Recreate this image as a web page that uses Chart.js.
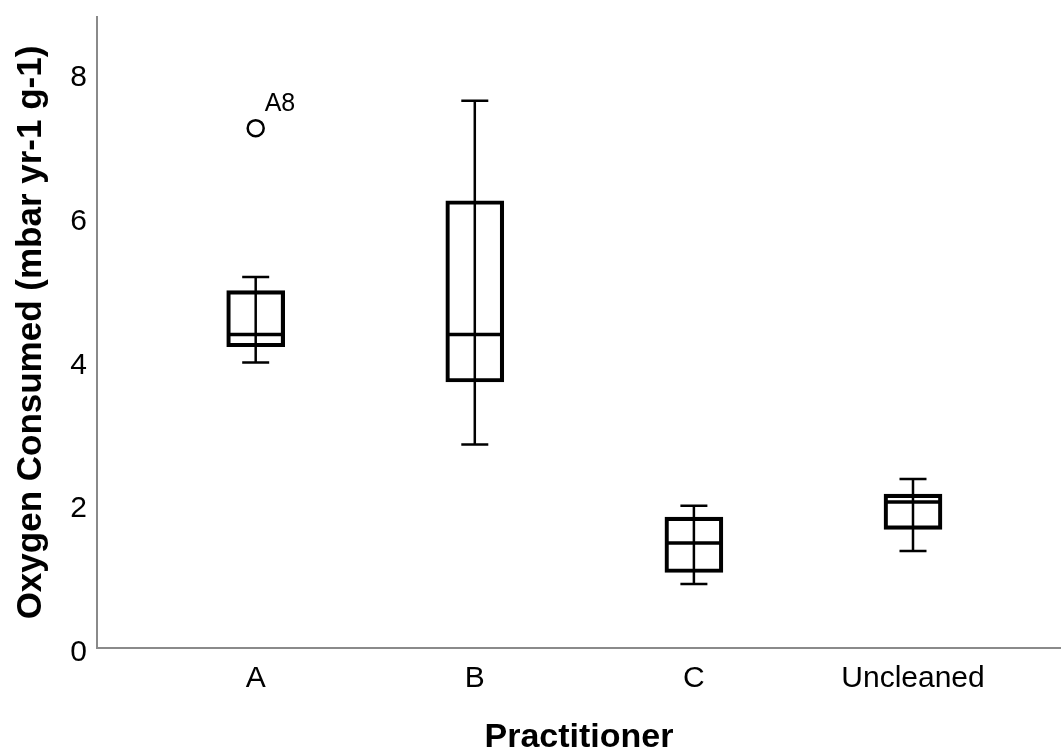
<!DOCTYPE html>
<html>
<head>
<meta charset="utf-8">
<script src="https://cdn.jsdelivr.net/npm/chart.js@4"></script>
<style>
  html, body { margin: 0; padding: 0; background: #fff; overflow: hidden; }
  #wrap { width: 1061px; height: 751px; }
</style>
</head>
<body>
<div id="wrap"><canvas id="boxChart"></canvas></div>
<script>
// Boxplot values
const categories = ['A', 'B', 'C', 'Uncleaned'];
const whiskerLow = [3.97, 2.83, 0.89, 1.35];
const q1 = [4.19, 3.70, 1.05, 1.65];
const median = [4.36, 4.36, 1.46, 2.03];
const q3 = [4.97, 6.22, 1.82, 2.14];
const whiskerHigh = [5.16, 7.61, 1.98, 2.35];

// Outliers (category index, value, case label)
const outlierCat = [0];
const outlierValues = [7.23];
const outlierLabels = ['A8'];

const yTicks = [0, 2, 4, 6, 8];

const boxData = categories.map((c, i) => ({ x: i + 1, y: [q1[i], q3[i]] }));
const outlierData = outlierCat.map((c, i) => ({ x: c + 1, y: outlierValues[i] }));

// whiskers, caps and median lines on top of the bars
const boxLines = {
    id: 'boxLines',
    afterDatasetsDraw(chart) {
        const { ctx, scales: { x, y } } = chart;
        ctx.save();
        ctx.strokeStyle = '#000';
        ctx.lineCap = 'butt';
        categories.forEach((c, i) => {
            const px = x.getPixelForValue(i + 1);
            const yl = y.getPixelForValue(whiskerLow[i]);
            const yh = y.getPixelForValue(whiskerHigh[i]);
            ctx.lineWidth = 2.5;
            ctx.beginPath();
            ctx.moveTo(px, yl); ctx.lineTo(px, yh);
            ctx.moveTo(px - 13.5, yl); ctx.lineTo(px + 13.5, yl);
            ctx.moveTo(px - 13.5, yh); ctx.lineTo(px + 13.5, yh);
            ctx.stroke();
            const ym = y.getPixelForValue(median[i]);
            ctx.lineWidth = 3.5;
            ctx.beginPath();
            ctx.moveTo(px - 28, ym); ctx.lineTo(px + 28, ym);
            ctx.stroke();
        });
        // outlier case labels
        ctx.fillStyle = '#000';
        ctx.font = '25px "Liberation Sans", Arial, sans-serif';
        ctx.textAlign = 'left';
        ctx.textBaseline = 'alphabetic';
        outlierData.forEach((p, i) => {
            ctx.fillText(outlierLabels[i], x.getPixelForValue(p.x) + 9, y.getPixelForValue(p.y) - 17);
        });
        ctx.restore();
    }
};

const ctx = document.getElementById('boxChart').getContext('2d');

const boxChart = new Chart(ctx, {
    type: 'bar',
    data: {
        datasets: [{
            label: 'Box',
            data: boxData,
            backgroundColor: 'rgba(255,255,255,0)',
            borderColor: '#000',
            borderWidth: 3.5,
            borderSkipped: false,
            barThickness: 58
        }, {
            type: 'scatter',
            label: 'Outliers',
            data: outlierData,
            pointStyle: 'circle',
            pointRadius: 8,
            pointBackgroundColor: '#fff',
            pointBorderColor: '#000',
            pointBorderWidth: 2.5
        }]
    },
    options: {
        responsive: true,
        maintainAspectRatio: false,
        animation: false,
        layout: { autoPadding: false, padding: { top: 17, right: 0, left: 0, bottom: 0 } },
        plugins: {
            legend: { display: false },
            tooltip: { enabled: false }
        },
        scales: {
            x: {
                type: 'linear',
                offset: false,
                min: 0.2757,
                max: 4.6755,
                grid: { display: false },
                border: { display: true, color: '#8a8a8a', width: 2 },
                afterBuildTicks: s => { s.ticks = categories.map((c, i) => ({ value: i + 1 })); },
                afterFit: s => { s.height = 103; s.paddingLeft = 0; s.paddingRight = 0; },
                ticks: {
                    color: '#000',
                    padding: 5,
                    font: { family: '"Liberation Sans", Arial, sans-serif', size: 30 },
                    callback: v => categories[v - 1]
                },
                title: {
                    display: true,
                    text: 'Practitioner',
                    color: '#000',
                    padding: { top: 0, bottom: -4 },
                    font: { family: '"Liberation Sans", Arial, sans-serif', size: 34, weight: 'bold', lineHeight: 1 }
                }
            },
            y: {
                min: 0,
                max: 8.776,
                grid: { display: false },
                border: { display: true, color: '#8a8a8a', width: 2 },
                afterBuildTicks: s => { s.ticks = yTicks.map(v => ({ value: v })); },
                afterFit: s => { s.width = 97; s.paddingTop = 0; s.paddingBottom = 0; },
                ticks: {
                    color: '#000',
                    padding: 2,
                    labelOffset: 5,
                    font: { family: '"Liberation Sans", Arial, sans-serif', size: 30 }
                },
                title: {
                    display: true,
                    text: 'Oxygen Consumed (mbar yr-1 g-1)',
                    color: '#000',
                    padding: { top: 10, bottom: 0 },
                    font: { family: '"Liberation Sans", Arial, sans-serif', size: 35, weight: 'bold' }
                }
            }
        }
    },
    plugins: [boxLines]
});
</script>
</body>
</html>
